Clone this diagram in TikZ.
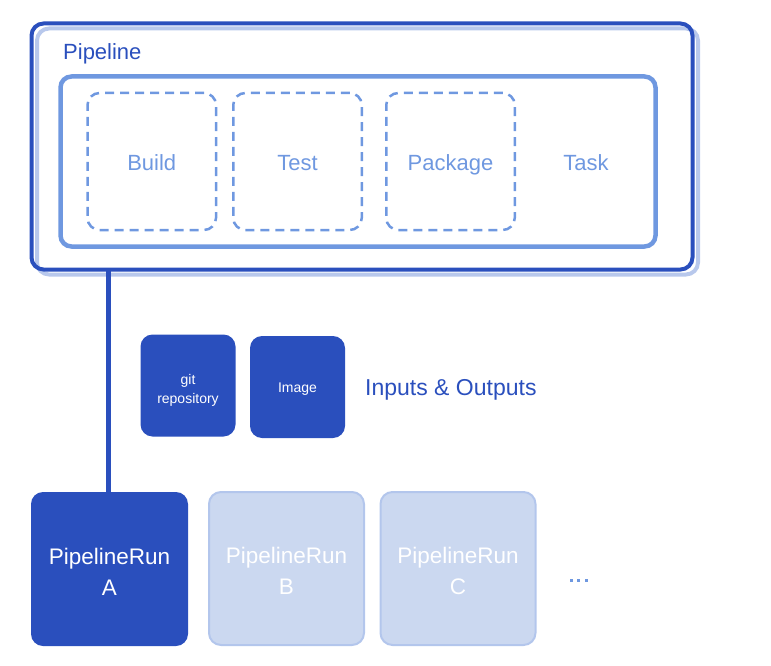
\documentclass[tikz,border=0pt]{standalone}
\usepackage{fontspec}
\setmainfont{Liberation Sans}
\definecolor{dblue}{HTML}{2A4FBD}
\definecolor{mblue}{HTML}{6F98E0}
\definecolor{sblue}{HTML}{B8C8EC}
\definecolor{lfill}{HTML}{CBD8F0}
\definecolor{ledge}{HTML}{B3C6EC}
\begin{document}
\begin{tikzpicture}[x=1pt,y=-1pt,
  box/.style={rectangle,rounded corners=12pt,inner sep=0pt,outer sep=0pt},
  bigtext/.style={font=\fontsize{22}{26}\selectfont,text height=15.75pt,text depth=0pt},
  taskbox/.style={box,draw=mblue,line width=2.5pt,dash pattern=on 9pt off 6pt,
    minimum width=128.5pt,minimum height=137pt,text=mblue,bigtext,text height=18.75pt},
  resbox/.style={box,fill=dblue,minimum width=95pt,minimum height=102pt,text=white,
    align=center,font=\fontsize{14}{19}\selectfont},
  runbox/.style={box,minimum width=157pt,minimum height=154pt,text=white,align=center,
    font=\fontsize{22.5}{31}\selectfont,text height=52pt,text depth=0pt},
  dot/.style={rectangle,fill=mblue,minimum size=3pt,inner sep=0pt}]
\useasboundingbox (0,0) rectangle (771,666);
% pipeline shadow and box
\node[box,draw=sblue,line width=4pt,minimum width=661pt,minimum height=246pt] (shadow) at (367.5,151.5) {};
\node[box,draw=dblue,line width=4pt,minimum width=661pt,minimum height=246pt] (pipeline) at (362,146.5) {};
\node[anchor=west,text=dblue,bigtext,inner sep=0pt] (plabel) at (63,52) {Pipeline};
% task container
\node[box,draw=mblue,line width=4.5pt,rounded corners=11pt,minimum width=595pt,minimum height=170pt] (tasks) at (358,161.5) {};
\node[taskbox] (build) at (151.75,161.5) {Build};
\node[taskbox] (test) at (297.5,161.5) {Test};
\node[taskbox] (package) at (450.5,161.5) {Package};
\node[text=mblue,bigtext,inner sep=0pt] (task) at (586,163) {Task};
% inputs and outputs
\node[resbox,text height=36pt,text depth=0pt] (git) at (188,385.5) {git\\repository};
\node[resbox,text height=10pt,text depth=0pt] (image) at (297.5,387) {Image};
\node[anchor=west,text=dblue,font=\fontsize{23}{27}\selectfont,text height=16.5pt,text depth=0pt,inner sep=0pt] (io) at (365,387) {Inputs \& Outputs};
% pipeline runs
\node[runbox,fill=dblue] (runA) at (109.5,569) {PipelineRun\\A};
\node[runbox,fill=lfill,draw=ledge,line width=2pt,minimum width=155pt,minimum height=153pt] (runB) at (286.5,568.5) {PipelineRun\\B};
\node[runbox,fill=lfill,draw=ledge,line width=2pt,minimum width=155pt,minimum height=153pt] (runC) at (458,568.5) {PipelineRun\\C};
\node[dot] (d1) at (571,580) {};
\node[dot] (d2) at (578.5,580) {};
\node[dot] (d3) at (586,580) {};
% connector
\draw[dblue,line width=4.5pt] (runA.north -| 108.5,0) -- (pipeline.south -| 108.5,0);
\end{tikzpicture}
\end{document}
